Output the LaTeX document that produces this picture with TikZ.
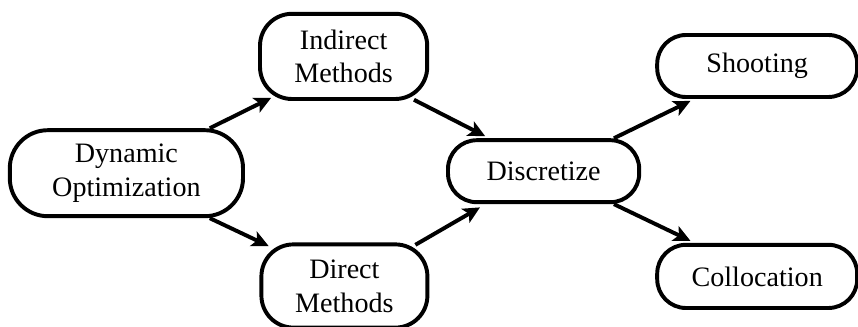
\documentclass[tikz,border=0pt]{standalone}
\usepackage{fontspec}
\setmainfont{Liberation Serif}
\usepackage{tikz}
\usetikzlibrary{arrows.meta}

\begin{document}
\begin{tikzpicture}[
    box/.style={draw, line width=2.8pt, rounded corners=0.72cm, inner sep=0pt,
        align=center, font=\fontsize{20}{24}\selectfont},
    link/.style={line width=2.8pt, -{Stealth[length=0.42cm, width=0.4cm, inset=0.1cm]}}
]
    \useasboundingbox (0, 0) rectangle (21.45, -8.175);
\node[box, rounded corners=0.95cm, minimum width=5.83cm, minimum height=2.15cm] (dyn) at (3.16, -4.33) {Dynamic\\Optimization};
\node[box, rounded corners=0.8cm, minimum width=4.18cm, minimum height=2.13cm] (ind) at (8.59, -1.41) {Indirect\\Methods};
\node[box, rounded corners=0.8cm, minimum width=4.15cm, minimum height=2.08cm] (dir) at (8.61, -7.15) {Direct\\Methods};
\node[box, minimum width=4.78cm, minimum height=1.55cm] (dis) at (13.59, -4.28) {Discretize};
\node[box, minimum width=5cm, minimum height=1.55cm] (sho) at (18.93, -1.65) {Shooting};
\node[box, minimum width=5cm, minimum height=1.58cm] (col) at (18.93, -6.91) {Collocation};
    % arrows
    \draw[link] ([xshift=-0.88cm]dyn.north east) -- ([xshift=0.33cm, yshift=0.08cm]ind.south west);
    \draw[link] ([xshift=-0.88cm]dyn.south east) -- ([xshift=0.23cm, yshift=-0.09cm]dir.north west);
    \draw[link] ([xshift=-0.38cm, yshift=0.03cm]ind.south east) -- ([xshift=0.98cm, yshift=0.05cm]dis.north west);
    \draw[link] ([xshift=-0.35cm, yshift=-0.06cm]dir.north east) -- ([xshift=0.85cm, yshift=-0.08cm]dis.south west);
    \draw[link] ([xshift=-0.68cm]dis.north east) -- ([xshift=0.88cm, yshift=-0.05cm]sho.south west);
    \draw[link] ([xshift=-0.68cm]dis.south east) -- ([xshift=0.88cm, yshift=0.05cm]col.north west);
    \end{tikzpicture}
\end{document}
